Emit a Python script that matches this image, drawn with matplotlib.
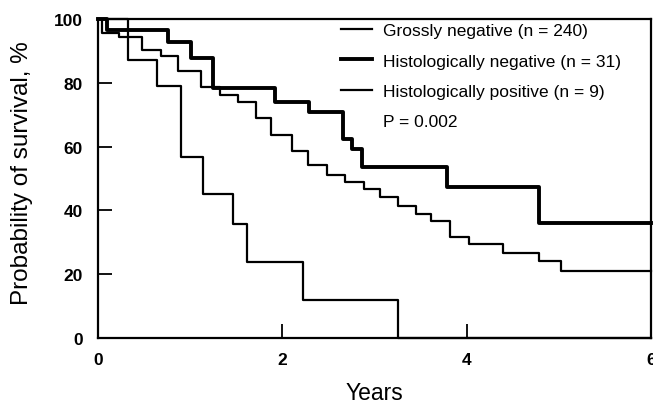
import matplotlib
matplotlib.use('Agg')
import matplotlib.pyplot as plt
from matplotlib.lines import Line2D

plt.rcParams['font.family'] = ['Liberation Sans', 'DejaVu Sans']

# survival curves (steps-post: value holds until next time)
gross_neg_t = [0, 0.04, 0.23, 0.48, 0.68, 0.87, 1.12, 1.32, 1.52, 1.71, 1.88, 2.10, 2.28,
               2.48, 2.68, 2.89, 3.06, 3.25, 3.45, 3.61, 3.82, 4.03, 4.39, 4.78, 5.02, 6.0]
gross_neg_s = [100, 95.5, 94.3, 90.4, 88.4, 83.8, 78.8, 76.2, 73.9, 69.1, 63.6, 58.7, 54.1,
               51.2, 48.8, 46.7, 44.1, 41.5, 38.9, 36.6, 31.8, 29.5, 26.8, 24.0, 20.9, 20.9]

histo_neg_t = [0, 0.10, 0.76, 1.01, 1.25, 1.92, 2.29, 2.66, 2.76, 2.87, 3.79, 4.79, 6.0]
histo_neg_s = [100, 96.4, 92.7, 87.7, 78.5, 73.9, 70.9, 62.5, 59.1, 53.7, 47.3, 36.0, 36.0]

histo_pos_t = [0, 0.33, 0.645, 0.905, 1.14, 1.46, 1.615, 2.23, 3.25, 6.0]
histo_pos_s = [100, 87.0, 79.0, 56.6, 45.1, 35.7, 23.9, 12.0, 0, 0]

labels = ['Grossly negative (n = 240)', 'Histologically negative (n = 31)',
          'Histologically positive (n = 9)']
p_text = 'P = 0.002'

x_ticks = [0, 2, 4, 6]
y_ticks = [0, 20, 40, 60, 80, 100]

fig = plt.figure(figsize=(6.53, 4.06), dpi=100)
ax = fig.add_axes([0.1500, 0.165, 0.8469, 0.7857])

thin, thick = 1.6, 2.8
ax.plot(gross_neg_t, gross_neg_s, drawstyle='steps-post', color='black', lw=thin, clip_on=False)
ax.plot(histo_neg_t, histo_neg_s, drawstyle='steps-post', color='black', lw=thick, clip_on=False)
ax.plot(histo_pos_t, histo_pos_s, drawstyle='steps-post', color='black', lw=thin, clip_on=False)

ax.set_xlim(0, 6)
ax.set_ylim(0, 100)
ax.set_xticks(x_ticks)
ax.set_yticks(y_ticks)
ax.tick_params(direction='in', length=10, width=1.3, top=False, right=False)
ax.tick_params(axis='x', pad=10)
ax.tick_params(axis='y', pad=11)
for lab in ax.get_xticklabels() + ax.get_yticklabels():
    lab.set_fontsize(12.5)
    lab.set_fontweight('bold')
for sp in ax.spines.values():
    sp.set_linewidth(1.6)

ax.set_xlabel('Years', fontsize=16.5)
ax.xaxis.set_label_coords(0.5, -0.135)
ax.set_ylabel('Probability of survival, %', fontsize=17.5)
ax.yaxis.set_label_coords(-0.117, 0.52)

handles = [Line2D([], [], color='black', lw=thin),
           Line2D([], [], color='black', lw=thick),
           Line2D([], [], color='black', lw=thin),
           Line2D([], [], linestyle='none')]
ax.legend(handles, labels + [p_text], loc='upper left', bbox_to_anchor=(0.44, 0.987),
          frameon=False, fontsize=12.5, handlelength=1.75, handletextpad=0.65,
          labelspacing=0.87, borderpad=0, borderaxespad=0)

fig.savefig('out.png', dpi=100)
plt.close(fig)
